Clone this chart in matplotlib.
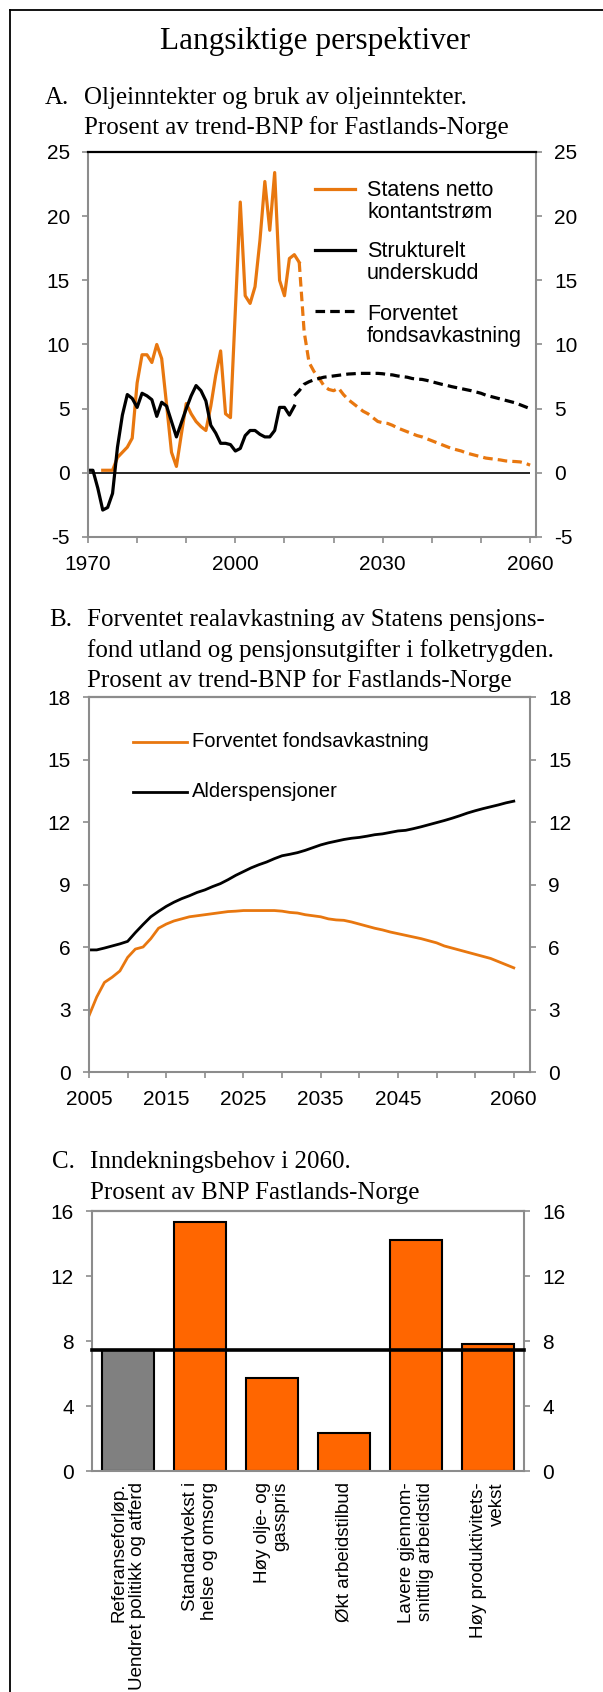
import matplotlib
matplotlib.use("Agg")
import matplotlib.pyplot as plt
from matplotlib.lines import Line2D
import numpy as np

W, H = 603, 1692
SERIF = "Liberation Serif"
SANS = "Liberation Sans"
plt.rcParams["font.family"] = [SANS, "DejaVu Sans"]
plt.rcParams["axes.unicode_minus"] = False

ORANGE = "#E8770F"
BAR_ORANGE = "#FF6600"
BAR_GREY = "#808080"
SPINE = "#8C8C8C"

# --- Panel A: oil revenues and spending, % of mainland trend GDP
YEARS_CASH = np.arange(1973, 2014)
CASH_FLOW = [0.2, 0.2, 0.2, 1.2, 1.6, 2.0, 2.7, 7.0, 9.2, 9.2,
             8.6, 10.0, 8.9, 5.3, 1.6, 0.5, 3.0, 5.4, 4.6, 4.0,
             3.6, 3.3, 5.2, 7.6, 9.5, 4.6, 4.3, 12.7, 21.1, 13.8,
             13.2, 14.5, 18.1, 22.7, 18.9, 23.4, 15.0, 13.8, 16.7, 17.0,
             16.4]
YEARS_CASH_PROJ = np.arange(2013, 2061)
CASH_FLOW_PROJ = [16.4, 11.0, 8.6, 7.9, 7.4, 6.8, 6.5, 6.4, 6.6, 6.1,
                  5.7, 5.4, 5.1, 4.8, 4.6, 4.3, 4.0, 3.9, 3.85, 3.7,
                  3.5, 3.35, 3.2, 3.05, 2.9, 2.8, 2.65, 2.5, 2.35, 2.2,
                  2.05, 1.9, 1.8, 1.7, 1.55, 1.45, 1.35, 1.25, 1.15, 1.1,
                  1.05, 1.0, 0.93, 0.9, 0.88, 0.85, 0.75, 0.6]
YEARS_DEFICIT = np.arange(1970, 2013)
STRUCT_DEFICIT = [0.2, 0.2, -1.2, -2.9, -2.7, -1.6, 2.0, 4.5, 6.1, 5.8,
                  5.1, 6.2, 6.0, 5.7, 4.4, 5.5, 5.2, 4.0, 2.8, 3.9,
                  5.0, 6.0, 6.8, 6.4, 5.6, 3.7, 3.1, 2.3, 2.3, 2.2,
                  1.7, 1.9, 2.9, 3.3, 3.3, 3.0, 2.8, 2.8, 3.3, 5.1,
                  5.1, 4.5, 5.2]
FUND_START_A = 2012

# --- Panel B: expected fund return and old-age pensions
YEARS_B = np.arange(2005, 2061)
FUND_RETURN = [2.7, 3.6, 4.3, 4.55, 4.85, 5.5, 5.9, 6.0, 6.4, 6.9,
               7.1, 7.25, 7.35, 7.45, 7.5, 7.55, 7.6, 7.65, 7.7, 7.72,
               7.75, 7.75, 7.75, 7.75, 7.75, 7.72, 7.66, 7.63, 7.55, 7.5,
               7.45, 7.35, 7.3, 7.28, 7.2, 7.1, 7.0, 6.9, 6.82, 6.72,
               6.64, 6.56, 6.48, 6.4, 6.3, 6.2, 6.05, 5.95, 5.85, 5.75,
               5.65, 5.55, 5.45, 5.3, 5.15, 5.0]
OLD_AGE_PENSION = [5.86, 5.86, 5.95, 6.05, 6.15, 6.27, 6.69, 7.08, 7.45, 7.71,
                   7.95, 8.15, 8.32, 8.46, 8.62, 8.74, 8.9, 9.04, 9.23, 9.44,
                   9.62, 9.8, 9.95, 10.08, 10.24, 10.38, 10.45, 10.53, 10.64, 10.77,
                   10.9, 11.0, 11.08, 11.16, 11.22, 11.26, 11.32, 11.39, 11.43, 11.5,
                   11.57, 11.6, 11.68, 11.77, 11.87, 11.97, 12.07, 12.18, 12.3, 12.43,
                   12.54, 12.64, 12.73, 12.82, 12.92, 13.0]
B_TICKS = np.arange(2005, 2061, 5)
B_TICK_LABELS = ["2005", "", "2015", "", "2025", "", "2035", "", "2045", "", "", "2060"]

# --- Panel C: financing need in 2060
SCENARIOS = ["Referanseforløp.\nUendret politikk og atferd",
             "Standardvekst i\nhelse og omsorg",
             "Høy olje- og\ngasspris",
             "Økt arbeidstilbud",
             "Lavere gjennom-\nsnittlig arbeidstid",
             "Høy produktivitets-\nvekst"]
FINANCING_NEED = [7.45, 15.3, 5.7, 2.35, 14.2, 7.8]


def px_rect(left, top, right, bottom):
    return [left / W, 1 - bottom / H, (right - left) / W, (bottom - top) / H]


def fig_text(fig, x, y, s, **kw):
    fig.text(x / W, 1 - y / H, s, **kw)


def style_axes(ax, top_color=SPINE):
    for side in ["left", "right", "bottom"]:
        ax.spines[side].set_color(SPINE)
        ax.spines[side].set_linewidth(1.5)
    ax.spines["top"].set_color(top_color)
    ax.spines["top"].set_linewidth(1.6)
    ax.tick_params(axis="both", direction="out", length=4, width=1.2,
                   color=SPINE, labelsize=15, pad=9)
    ax.tick_params(axis="y", right=True, labelright=True)


fig = plt.figure(figsize=(W / 100, H / 100), dpi=100)

# outer frame (top and left edges only)
fig.add_artist(Line2D([10 / W, 10 / W], [0, 1 - 10 / H], color="black", lw=1.3,
                      transform=fig.transFigure))
fig.add_artist(Line2D([10 / W, 1], [1 - 10 / H, 1 - 10 / H], color="black", lw=1.3,
                      transform=fig.transFigure))

title_kw = dict(family=SERIF, fontsize=18, va="center")
fig_text(fig, 315, 42, "Langsiktige perspektiver", family=SERIF, fontsize=22.5,
         ha="center", va="center")

# ---------------- Panel A
fig_text(fig, 45, 98, "A.", **title_kw)
fig_text(fig, 84, 98, "Oljeinntekter og bruk av oljeinntekter.", **title_kw)
fig_text(fig, 84, 128, "Prosent av trend-BNP for Fastlands-Norge", **title_kw)

axA = fig.add_axes(px_rect(88, 152, 536, 537))
axA.hlines(0, YEARS_DEFICIT[0], YEARS_CASH_PROJ[-1], color="black", lw=1.2)
axA.plot(YEARS_CASH, CASH_FLOW, color=ORANGE, lw=2.3)
axA.plot(YEARS_CASH_PROJ, CASH_FLOW_PROJ, color=ORANGE, lw=2.3, ls=(0, (3, 1.6)))
axA.plot(YEARS_DEFICIT, STRUCT_DEFICIT, color="black", lw=2.3)
fund_a = YEARS_B >= FUND_START_A
axA.plot(YEARS_B[fund_a], np.array(FUND_RETURN)[fund_a], color="black", lw=2.3,
         ls=(0, (3, 1.6)))
axA.set_xlim(1970, 2061.2)
axA.set_ylim(-5, 25)
axA.set_yticks(np.arange(-5, 26, 5))
axA.set_xticks(np.arange(1970, 2061, 10))
axA.set_xticklabels([str(y) if y in (1970, 2000, 2030, 2060) else ""
                     for y in range(1970, 2061, 10)])
style_axes(axA, top_color="black")

leg_a = [("Statens netto\nkontantstrøm", ORANGE, "-", 0.904, 0.871),
         ("Strukturelt\nunderskudd", "black", "-", 0.745, 0.713),
         ("Forventet\nfondsavkastning", "black", (0, (3, 1.6)), 0.587, 0.549)]
for label, color, ls, y_line, y_text in leg_a:
    axA.plot([0.507, 0.596], [y_line, y_line], color=color, lw=2.3, ls=ls,
             transform=axA.transAxes)
    axA.text(0.623, y_text, label, transform=axA.transAxes, fontsize=15.5,
             va="center", ha="left", linespacing=1.1)

# ---------------- Panel B
fig_text(fig, 49, 620, "B.", **title_kw)
fig_text(fig, 87, 620, "Forventet realavkastning av Statens pensjons-", **title_kw)
fig_text(fig, 87, 651, "fond utland og pensjonsutgifter i folketrygden.", **title_kw)
fig_text(fig, 87, 681, "Prosent av trend-BNP for Fastlands-Norge", **title_kw)

axB = fig.add_axes(px_rect(89, 697, 530, 1072))
axB.plot(YEARS_B, FUND_RETURN, color=ORANGE, lw=2.0)
axB.plot(YEARS_B, OLD_AGE_PENSION, color="black", lw=2.0)
axB.set_xlim(2005, 2062.1)
axB.set_ylim(0, 18)
axB.set_yticks(np.arange(0, 19, 3))
axB.set_xticks(B_TICKS)
axB.set_xticklabels(B_TICK_LABELS)
style_axes(axB)

leg_b = [("Forventet fondsavkastning", ORANGE, 0.881),
         ("Alderspensjoner", "black", 0.747)]
for label, color, y in leg_b:
    axB.plot([0.099, 0.222], [y, y], color=color, lw=2.0, transform=axB.transAxes)
    axB.text(0.233, y, label, transform=axB.transAxes, fontsize=14.5,
             va="center", ha="left")

# ---------------- Panel C
fig_text(fig, 52, 1162, "C.", **title_kw)
fig_text(fig, 90, 1162, "Inndekningsbehov i 2060.", **title_kw)
fig_text(fig, 90, 1193, "Prosent av BNP Fastlands-Norge", **title_kw)

axC = fig.add_axes(px_rect(92, 1211, 524, 1471))
x = np.arange(len(SCENARIOS))
colors = [BAR_GREY] + [BAR_ORANGE] * (len(SCENARIOS) - 1)
axC.bar(x, FINANCING_NEED, width=0.73, color=colors, edgecolor="black", lw=1.5,
        zorder=2)
axC.axhline(FINANCING_NEED[0], color="black", lw=2.6, zorder=3, clip_on=False)
axC.set_xlim(-0.5, len(SCENARIOS) - 0.5)
axC.set_ylim(0, 16)
axC.set_yticks(np.arange(0, 17, 4))
axC.set_xticks(x)
axC.set_xticklabels(SCENARIOS, rotation=90, va="top", ha="center",
                    multialignment="right", linespacing=1.1)
style_axes(axC)
axC.tick_params(axis="x", length=0, pad=8, labelsize=13.5)

fig.savefig("out.png", dpi=100)
